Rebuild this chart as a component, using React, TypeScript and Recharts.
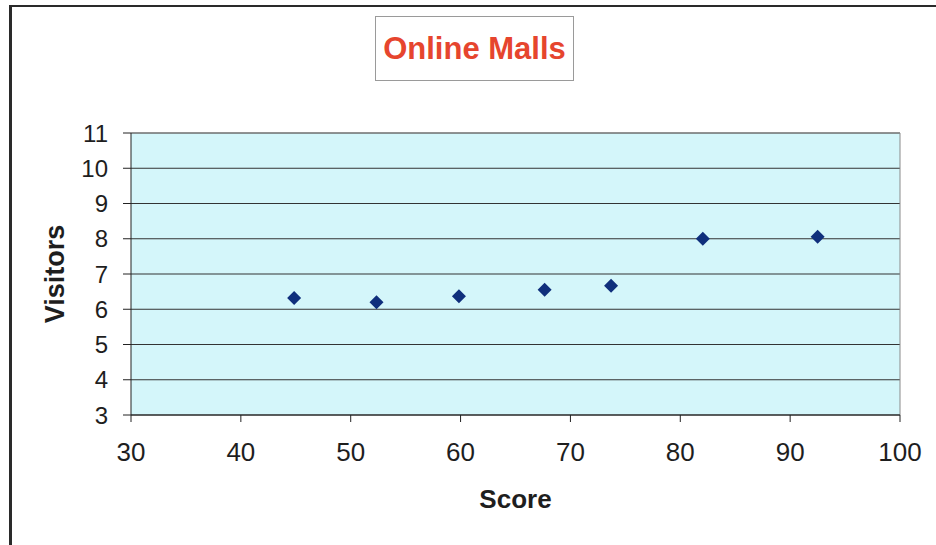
import React from "react";
import {
  ScatterChart,
  Scatter,
  XAxis,
  YAxis,
  CartesianGrid,
  ReferenceLine,
  Label,
} from "recharts";

const scores = [44.85, 52.35, 59.85, 67.65, 73.7, 82.05, 92.5];
const visitors = [6.32, 6.2, 6.37, 6.55, 6.67, 8.0, 8.06];
const xTicks = [30, 40, 50, 60, 70, 80, 90, 100];
const yTicks = [3, 4, 5, 6, 7, 8, 9, 10, 11];

const data = scores.map((s, i) => ({ x: s, y: visitors[i] }));

const FONT = "'Liberation Sans', Arial, sans-serif";

function Diamond(props: any) {
  const { cx, cy } = props;
  const r = 7;
  return (
    <polygon
      points={`${cx},${cy - r} ${cx + r},${cy} ${cx},${cy + r} ${cx - r},${cy}`}
      fill="#0f2f7c"
    />
  );
}

function XTick(props: any) {
  const { x, y, payload } = props;
  return (
    <text
      x={x}
      y={y}
      dy="0.71em"
      textAnchor="middle"
      fontSize={26}
      fill="#1e1e1e"
      fontFamily={FONT}
    >
      {payload.value}
    </text>
  );
}

function YTick(props: any) {
  const { x, y, payload } = props;
  return (
    <text
      x={x}
      y={y}
      dy="0.36em"
      textAnchor="end"
      fontSize={24}
      fill="#1e1e1e"
      fontFamily={FONT}
    >
      {payload.value}
    </text>
  );
}

export default function App() {
  return (
    <div
      style={{
        position: "absolute",
        left: 0,
        top: 0,
        width: 936,
        height: 545,
        background: "#fff",
        overflow: "hidden",
        fontFamily: FONT,
      }}
    >
      {/* outer chart frame, cut off on the right and bottom */}
      <div
        style={{
          position: "absolute",
          left: 9,
          top: 5,
          width: 960,
          height: 600,
          borderLeft: "3px solid #2a2a2a",
          borderTop: "2px solid #2a2a2a",
        }}
      />
      {/* title box */}
      <div
        style={{
          position: "absolute",
          left: 375,
          top: 16,
          width: 197,
          height: 63,
          border: "1px solid #9a9a9a",
          display: "flex",
          alignItems: "center",
          justifyContent: "center",
          color: "#e6452e",
          fontWeight: "bold",
          fontSize: 31,
        }}
      >
        Online Malls
      </div>
      <div style={{ position: "absolute", left: 0, top: 0 }}>
        <ScatterChart
          width={936}
          height={545}
          margin={{ top: 133, right: 36, bottom: 0, left: 0 }}
        >
          <CartesianGrid
            vertical={false}
            stroke="#333"
            fill="#d4f6fa"
            fillOpacity={1}
          />
          <XAxis
            type="number"
            dataKey="x"
            domain={[30, 100]}
            ticks={xTicks}
            height={130}
            tickSize={7}
            tickMargin={21}
            stroke="#222"
            tick={<XTick />}
          >
            <Label
              content={({ viewBox }: any) => (
                <text
                  x={viewBox.x + viewBox.width / 2}
                  y={viewBox.y + 93}
                  textAnchor="middle"
                  fontSize={26}
                  fontWeight="bold"
                  fill="#1e1e1e"
                  fontFamily={FONT}
                >
                  Score
                </text>
              )}
            />
          </XAxis>
          <YAxis
            type="number"
            dataKey="y"
            domain={[3, 11]}
            ticks={yTicks}
            width={131}
            tickSize={8}
            tickMargin={15}
            stroke="#222"
            tick={<YTick />}
          >
            <Label
              content={({ viewBox }: any) => {
                const cx = 54;
                const cy = viewBox.y + viewBox.height / 2;
                return (
                  <text
                    x={cx}
                    y={cy}
                    dy="0.36em"
                    transform={`rotate(-90 ${cx} ${cy})`}
                    textAnchor="middle"
                    fontSize={27}
                    fontWeight="bold"
                    fill="#1e1e1e"
                    fontFamily={FONT}
                  >
                    Visitors
                  </text>
                );
              }}
            />
          </YAxis>
          <ReferenceLine y={11} stroke="#8a8a8a" />
          <ReferenceLine x={100} stroke="#8a8a8a" />
          <Scatter data={data} shape={Diamond} isAnimationActive={false} />
        </ScatterChart>
      </div>
    </div>
  );
}
